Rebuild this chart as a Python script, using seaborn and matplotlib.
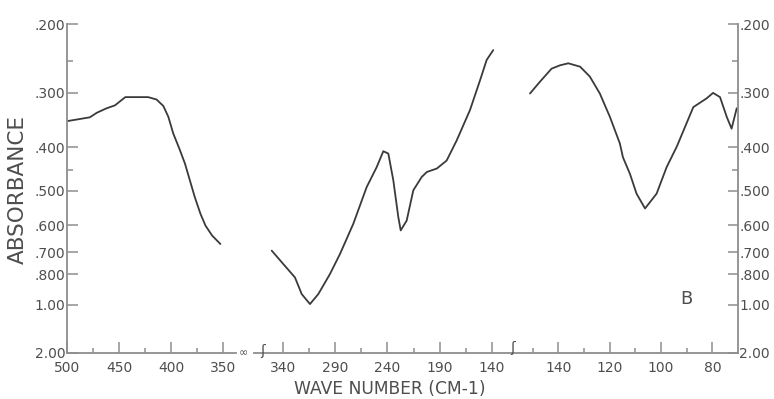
import numpy as np
import matplotlib
matplotlib.use("Agg")
import matplotlib.pyplot as plt
from matplotlib.ticker import FixedLocator, FixedFormatter, NullFormatter
import seaborn as sns

# ---------------- data ----------------
seg1_wn = [500, 478, 471.5, 462, 454, 444, 422, 414, 407.5, 402.7, 398, 391.5,
           386.7, 382, 377.3, 371.8, 367, 360.6, 352.7]
seg1_abs = [0.349, 0.342, 0.334, 0.326, 0.321, 0.307, 0.307, 0.311, 0.322, 0.341,
            0.372, 0.406, 0.435, 0.474, 0.517, 0.565, 0.602, 0.636, 0.667]

seg2_wn = [351.1, 340, 328.8, 322.3, 314.4, 306.4, 295.2, 285.6, 272.8, 260, 250.4,
           244, 239.2, 234.4, 229.6, 227.3, 221.6, 215.2, 207.2, 202.2, 192.6, 183.2,
           173.6, 160.8, 151.2, 144.8, 138.5]
seg2_abs = [0.693, 0.751, 0.818, 0.919, 0.993, 0.919, 0.800, 0.707, 0.596, 0.491, 0.443,
            0.408, 0.413, 0.474, 0.575, 0.618, 0.586, 0.499, 0.466, 0.454, 0.446, 0.428,
            0.386, 0.329, 0.280, 0.249, 0.235]

seg3_wn = [151.0, 147.1, 142.6, 139.3, 136.1, 131.5, 127.7, 123.8, 119.9, 116.0, 114.8,
           112.1, 109.5, 106.2, 101.7, 97.8, 93.8, 87.4, 82.2, 79.7, 77.0, 74.4, 72.5, 70.5]
seg3_abs = [0.301, 0.282, 0.262, 0.257, 0.254, 0.259, 0.274, 0.301, 0.341, 0.392, 0.421,
            0.458, 0.508, 0.549, 0.508, 0.443, 0.398, 0.324, 0.309, 0.300, 0.307, 0.341,
            0.363, 0.326]

y_ticks = [0.2, 0.3, 0.4, 0.5, 0.6, 0.7, 0.8, 1.0, 2.0]
y_labels = [".200", ".300", ".400", ".500", ".600", ".700", ".800", "1.00", "2.00"]
y_minor = [0.25, 0.45]

x1_major = [500, 450, 400, 350]
x1_minor = [475, 425, 375]
x2_major = [340, 290, 240, 190, 140]
x2_minor = [315, 265, 215, 165]
x3_major = [140, 120, 100, 80]
x3_minor = [150, 130, 110, 90]

# ---------------- style ----------------
sns.set_style("white")
plt.rcParams['font.family'] = ['DejaVu Sans']

LINE = '#3a3a3a'
AXC = '#8e8e8e'
TXT = '#4e4e4e'

W, H = 774, 399
fig = plt.figure(figsize=(W / 100, H / 100), dpi=100)
TOP, BOT = 24.3, 352.5


def ax_at(x0, x1):
    return fig.add_axes([x0 / W, 1 - BOT / H, (x1 - x0) / W, (BOT - TOP) / H])


def fwd(a):
    a = np.asarray(a, dtype=float)
    return -np.power(10.0, -a)


def inv(t):
    t = np.asarray(t, dtype=float)
    with np.errstate(invalid='ignore', divide='ignore'):
        return -np.log10(-t)


ax1 = ax_at(67, 236)
ax2 = ax_at(254, 512)
ax3 = ax_at(512, 738)

xlims = [(500, 337.7), (368.1, 120.5), (158.0, 70.0)]
segs = [(seg1_wn, seg1_abs), (seg2_wn, seg2_abs), (seg3_wn, seg3_abs)]
majors = [x1_major, x2_major, x3_major]
minors = [x1_minor, x2_minor, x3_minor]

for ax, (wn, ab), xl, mj, mn in zip([ax1, ax2, ax3], segs, xlims, majors, minors):
    ax.set_facecolor('white')
    ax.patch.set_alpha(0)
    sns.lineplot(x=wn, y=ab, ax=ax, color=LINE, linewidth=1.3, estimator=None, sort=False)
    ax.set_yscale('function', functions=(fwd, inv))
    ax.set_ylim(2.0, 0.2)
    ax.set_xlim(*xl)
    ax.set_xlabel("")
    ax.set_ylabel("")
    for s in ax.spines.values():
        s.set_visible(False)
        s.set_color(AXC)
        s.set_linewidth(1.3)
    ax.spines['bottom'].set_visible(True)
    ax.xaxis.set_major_locator(FixedLocator(mj))
    ax.xaxis.set_minor_locator(FixedLocator(mn))
    ax.xaxis.set_major_formatter(FixedFormatter([str(v) for v in mj]))
    ax.xaxis.set_minor_formatter(NullFormatter())
    ax.tick_params(axis='x', which='major', direction='in', length=8, width=1.1,
                   color=AXC, labelsize=10, labelcolor=TXT, pad=6, bottom=True)
    ax.tick_params(axis='x', which='minor', direction='in', length=3.5, width=1.1,
                   color=AXC, bottom=True)
    ax.yaxis.set_major_locator(FixedLocator(y_ticks))
    ax.yaxis.set_major_formatter(FixedFormatter(y_labels))
    ax.yaxis.set_minor_locator(FixedLocator(y_minor))
    ax.yaxis.set_minor_formatter(NullFormatter())
    ax.tick_params(axis='y', which='both', left=False, right=False,
                   labelleft=False, labelright=False)
    ax.grid(False)

# left y-axis
ax1.spines['left'].set_visible(True)
ax1.tick_params(axis='y', which='major', left=True, labelleft=True, direction='in',
                length=8, width=1.1, color=AXC, labelsize=10, labelcolor=TXT, pad=1)
ax1.tick_params(axis='y', which='minor', left=True, direction='in', length=4,
                width=1.1, color=AXC)

# right y-axis
ax3.spines['right'].set_visible(True)
ax3.tick_params(axis='y', which='major', right=True, labelright=True, direction='in',
                length=7, width=1.1, color=AXC, labelsize=10, labelcolor=TXT, pad=1)
ax3.tick_params(axis='y', which='minor', right=True, direction='in', length=4,
                width=1.1, color=AXC)

# axis titles and annotations
fig.text(18 / W, 1 - 189 / H, "ABSORBANCE", rotation=90, ha='center', va='center',
         fontsize=15.5, color=TXT)
fig.text(390 / W, 1 - 389 / H, "WAVE NUMBER (CM-1)", ha='center', va='center',
         fontsize=12.3, color=TXT)
fig.text(686 / W, 1 - 299 / H, "B", ha='center', va='center', fontsize=13, color=TXT)

# axis-break marks
fig.text(243 / W, 1 - 353 / H, "\u221e", ha='center', va='center', fontsize=8, color=TXT)
fig.text(263 / W, 1 - 351 / H, "\u0283", ha='center', va='center', fontsize=10, color=TXT)
fig.text(513 / W, 1 - 348 / H, "\u0283", ha='center', va='center', fontsize=10, color=TXT)

fig.savefig("out.png", dpi=100, facecolor='white')
